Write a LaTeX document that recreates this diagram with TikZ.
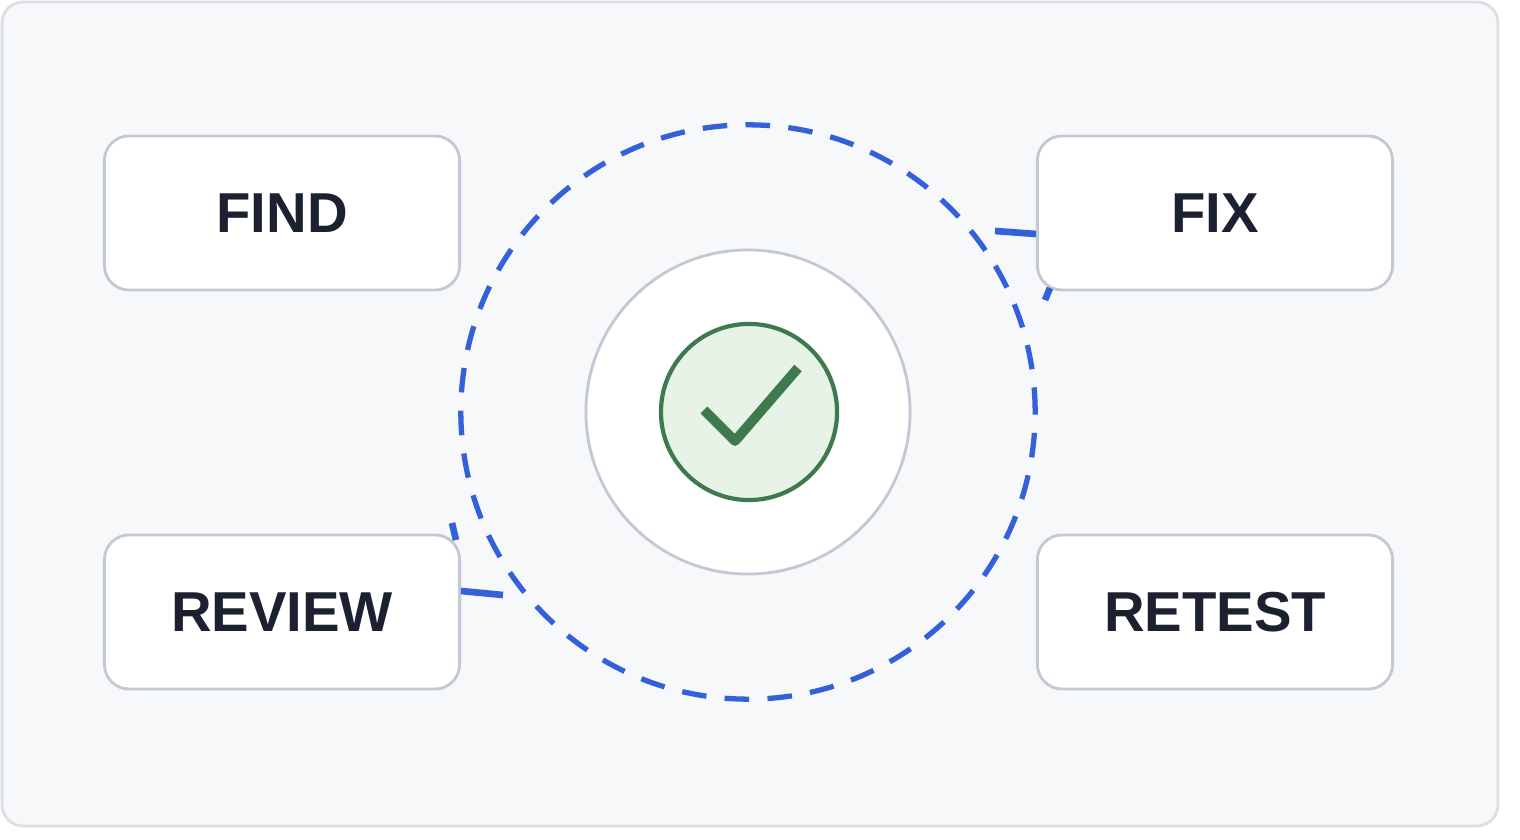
\documentclass[tikz,border=0pt]{standalone}
\usepackage{fontspec}
\setmainfont{Liberation Sans}
\usetikzlibrary{positioning}
\definecolor{panel}{HTML}{F6F8FA}
\definecolor{edge}{HTML}{C3C9D2}
\definecolor{ringblue}{HTML}{3461D9}
\definecolor{okgreen}{HTML}{3E7A4E}
\definecolor{okfill}{HTML}{E6F3E6}
\definecolor{ink}{HTML}{1B2130}

\begin{document}
\begin{tikzpicture}[x=0.01cm, y=-0.01cm,
stepnode/.style={rectangle, rounded corners=7pt, draw=edge, fill=white, line width=0.8pt, minimum width=3.55cm, minimum height=1.54cm, font=\fontsize{16}{18}\selectfont\bfseries, text=ink},
stub/.style={draw=ringblue, line width=1.9pt},
]
\useasboundingbox (0,0) rectangle (1520,840);
\draw[draw=edge!60, fill=panel, rounded corners=6pt, line width=0.8pt] (2,2) rectangle (1498,826);

%Ring
\draw[ringblue, line width=1.5pt, dash pattern=on 7pt off 5.2pt] (748,412) circle [radius=2.87cm];
\node[circle, draw=edge, fill=white, line width=0.8pt, minimum size=3.24cm] (hub) at (748,412) {};
\node[circle, draw=okgreen, fill=okfill, line width=1.2pt, minimum size=1.76cm] (ok) at (749,412) {};
\draw[okgreen, line width=2.8pt, line join=round] (704,410) -- (735,441) -- (798,368);

%Nodes
\node[stepnode] (find)   at (282,213) {FIND};
\node[stepnode] (fix)    at (1215,213) {FIX};
\node[stepnode] (review) at (282,612) {REVIEW};
\node[stepnode] (retest) at (1215,612) {RETEST};

%Lines
\coordinate (fixin)  at (995,231);
\coordinate (fixout) at (1045,300);
\coordinate (revin)  at (503,595);
\coordinate (revout) at (452,523);
\draw[stub] (fix.west |- 0,234) -- (fixin);
\draw[stub] (1050,288) -- (fixout);
\draw[stub] (review.east |- 0,591) -- (revin);
\draw[stub] (456,540) -- (revout);
\end{tikzpicture}
\end{document}
